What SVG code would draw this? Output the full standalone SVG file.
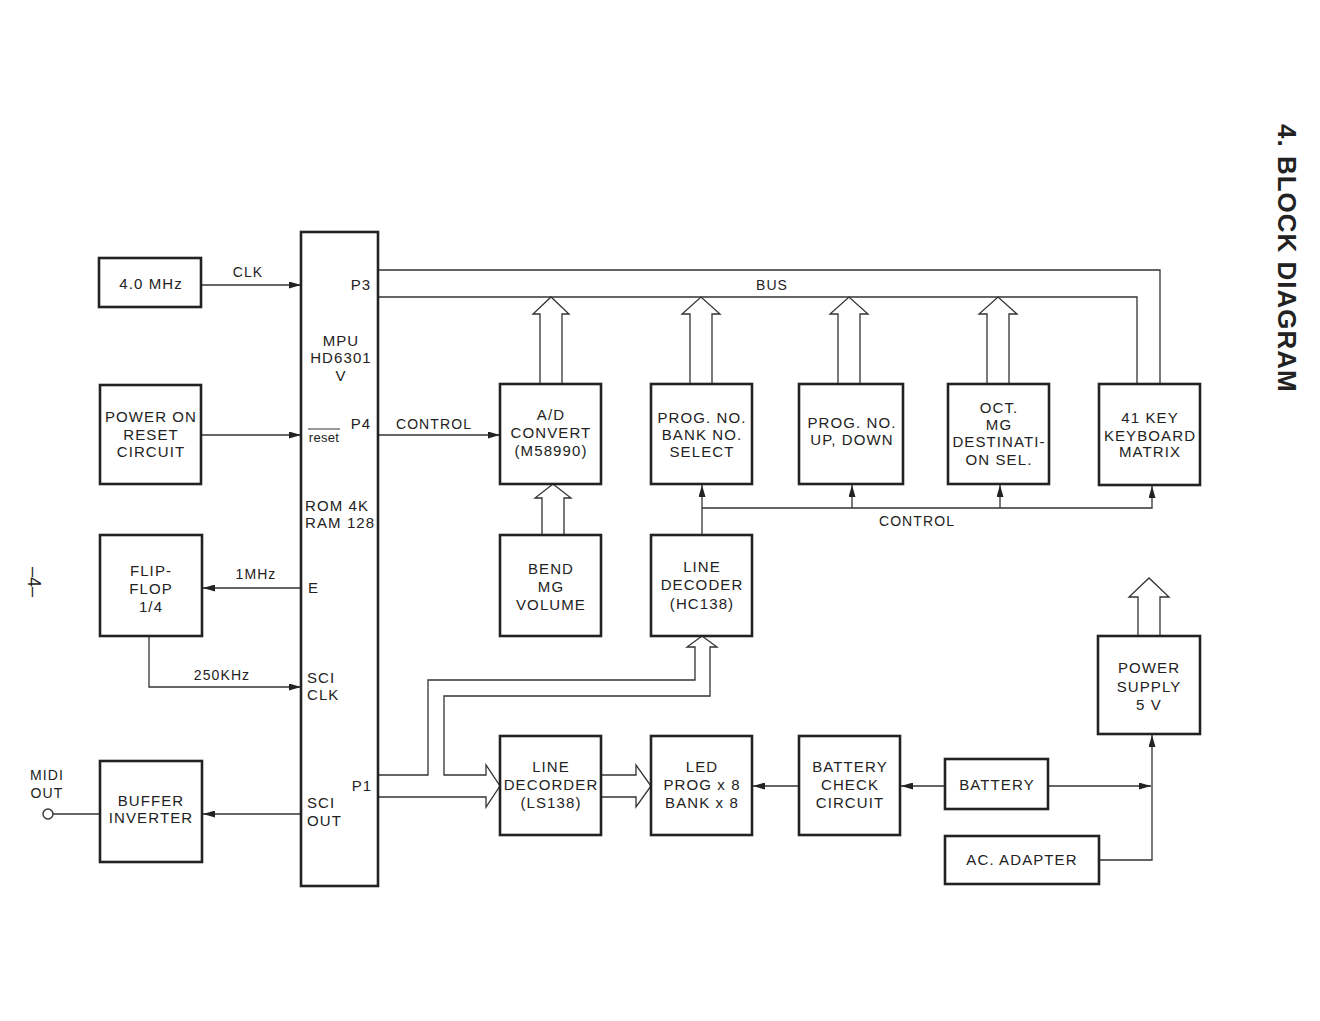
<svg xmlns="http://www.w3.org/2000/svg" width="1320" height="1021" viewBox="0 0 1320 1021">
<style>
.box{fill:#fff;stroke:#222;stroke-width:2.6}
.ln{fill:none;stroke:#333;stroke-width:1.3}
.ha{fill:#fff;stroke:#333;stroke-width:1.3;stroke-linejoin:miter}
text{font-family:"Liberation Sans",Arial,sans-serif;font-size:15px;fill:#222;letter-spacing:1.1px}
.c{text-anchor:middle}
.lbl{font-size:14px}
.title{font-size:26px;font-weight:bold;letter-spacing:1px}
</style>
<defs>
<marker id="ah" viewBox="0 0 12 7" refX="12" refY="3.5" markerWidth="12" markerHeight="7" markerUnits="userSpaceOnUse" orient="auto">
<path d="M0,0 L12,3.5 L0,7 Z" fill="#222"/>
</marker>
</defs>
<rect width="1320" height="1021" fill="#fff"/>

<g id="connectors">
<line class="ln" x1="201" y1="285" x2="301" y2="285" marker-end="url(#ah)"/>
<line class="ln" x1="201" y1="435" x2="301" y2="435" marker-end="url(#ah)"/>
<line class="ln" x1="301" y1="588" x2="203" y2="588" marker-end="url(#ah)"/>
<polyline class="ln" points="149,637 149,687 301,687" marker-end="url(#ah)"/>
<line class="ln" x1="301" y1="814" x2="203" y2="814" marker-end="url(#ah)"/>
<line class="ln" x1="53" y1="814" x2="100" y2="814"/>
<circle cx="48" cy="814" r="5" fill="#fff" stroke="#333" stroke-width="1.4"/>
<polyline class="ln" points="378,270 1160,270 1160,384"/>
<polyline class="ln" points="378,297 1137,297 1137,384"/>
<line class="ln" x1="378" y1="435" x2="500" y2="435" marker-end="url(#ah)"/>
<polyline class="ha" points="540,384 540,314 533,314 551,297 569,314 562,314 562,384"/>
<polyline class="ha" points="690,384 690,314 682,314 701,297 720,314 712,314 712,384"/>
<polyline class="ha" points="838,384 838,314 830,314 849,297 868,314 860,314 860,384"/>
<polyline class="ha" points="987,384 987,314 979,314 998,297 1017,314 1009,314 1009,384"/>
<polyline class="ha" points="542,535 542,498 535,498 553,484 571,498 564,498 564,535"/>
<line class="ln" x1="702" y1="535" x2="702" y2="485" marker-end="url(#ah)"/>
<polyline class="ln" points="702,508 1152,508 1152,486" marker-end="url(#ah)"/>
<line class="ln" x1="852" y1="508" x2="852" y2="485" marker-end="url(#ah)"/>
<line class="ln" x1="1000" y1="508" x2="1000" y2="485" marker-end="url(#ah)"/>
<polyline class="ha" points="378,775 428,775 428,680 695,680 695,647 687,647 702,636 717,647 710,647 710,696 444,696 444,775 486,775 486,765 500,786 486,807 486,797 378,797"/>
<polyline class="ha" points="602,775 636,775 636,765 651,786 636,807 636,797 602,797"/>
<line class="ln" x1="799" y1="786" x2="753" y2="786" marker-end="url(#ah)"/>
<line class="ln" x1="945" y1="786" x2="901" y2="786" marker-end="url(#ah)"/>
<line class="ln" x1="1048" y1="786" x2="1151" y2="786" marker-end="url(#ah)"/>
<polyline class="ln" points="1099,860 1152,860 1152,735" marker-end="url(#ah)"/>
<polyline class="ha" points="1138,636 1138,597 1129,597 1149,578 1169,597 1160,597 1160,636"/>
</g>

<g id="osc"><rect class="box" x="99" y="258" width="102" height="49"/><text class="c" x="151" y="289">4.0 MHz</text></g>
<g id="por"><rect class="box" x="100" y="385" width="101" height="99"/><text class="c" x="151" y="422">POWER ON</text><text class="c" x="151" y="440">RESET</text><text class="c" x="151" y="457">CIRCUIT</text></g>
<g id="ff"><rect class="box" x="100" y="535" width="102" height="101"/><text class="c" x="151" y="576">FLIP-</text><text class="c" x="151" y="594">FLOP</text><text class="c" x="151" y="612">1/4</text></g>
<g id="buf"><rect class="box" x="100" y="761" width="102" height="101"/><text class="c" x="151" y="806">BUFFER</text><text class="c" x="151" y="823">INVERTER</text></g>

<g id="mpu"><rect class="box" x="301" y="232" width="77" height="654"/>
<text class="c" x="341" y="346">MPU</text><text class="c" x="341" y="363">HD6301</text><text class="c" x="341" y="381">V</text>
<text class="c" x="361" y="290">P3</text>
<text class="c" x="361" y="429">P4</text>
<text class="c lbl" x="324" y="442" style="font-size:13px;letter-spacing:0.3px">reset</text>
<line x1="308" y1="429" x2="340" y2="429" stroke="#333" stroke-width="1"/>
<text x="305" y="511">ROM 4K</text><text x="305" y="528">RAM 128</text>
<text x="308" y="593">E</text>
<text x="307" y="683">SCI</text><text x="307" y="700">CLK</text>
<text x="307" y="808">SCI</text><text x="307" y="826">OUT</text>
<text class="c" x="362" y="791">P1</text>
</g>

<g id="ad"><rect class="box" x="500" y="384" width="101" height="100"/><text class="c" x="551" y="420">A/D</text><text class="c" x="551" y="438">CONVERT</text><text class="c" x="551" y="456">(M58990)</text></g>
<g id="pbs"><rect class="box" x="651" y="384" width="101" height="100"/><text class="c" x="702" y="423">PROG. NO.</text><text class="c" x="702" y="440">BANK NO.</text><text class="c" x="702" y="457">SELECT</text></g>
<g id="pud"><rect class="box" x="799" y="384" width="104" height="100"/><text class="c" x="852" y="428">PROG. NO.</text><text class="c" x="852" y="445">UP, DOWN</text></g>
<g id="oct"><rect class="box" x="948" y="384" width="101" height="100"/><text class="c" x="999" y="413">OCT.</text><text class="c" x="999" y="430">MG</text><text class="c" x="999" y="447">DESTINATI-</text><text class="c" x="999" y="465">ON SEL.</text></g>
<g id="kbd"><rect class="box" x="1099" y="384" width="101" height="101"/><text class="c" x="1150" y="423">41 KEY</text><text class="c" x="1150" y="441">KEYBOARD</text><text class="c" x="1150" y="457">MATRIX</text></g>

<g id="bend"><rect class="box" x="500" y="535" width="101" height="101"/><text class="c" x="551" y="574">BEND</text><text class="c" x="551" y="592">MG</text><text class="c" x="551" y="610">VOLUME</text></g>
<g id="hc138"><rect class="box" x="651" y="535" width="101" height="101"/><text class="c" x="702" y="572">LINE</text><text class="c" x="702" y="590">DECODER</text><text class="c" x="702" y="609">(HC138)</text></g>
<g id="psu"><rect class="box" x="1098" y="636" width="102" height="98"/><text class="c" x="1149" y="673">POWER</text><text class="c" x="1149" y="692">SUPPLY</text><text class="c" x="1149" y="710">5 V</text></g>

<g id="ls138"><rect class="box" x="500" y="736" width="101" height="99"/><text class="c" x="551" y="772">LINE</text><text class="c" x="551" y="790">DECORDER</text><text class="c" x="551" y="808">(LS138)</text></g>
<g id="led"><rect class="box" x="651" y="736" width="101" height="99"/><text class="c" x="702" y="772">LED</text><text class="c" x="702" y="790">PROG x 8</text><text class="c" x="702" y="808">BANK x 8</text></g>
<g id="bcc"><rect class="box" x="799" y="736" width="101" height="99"/><text class="c" x="850" y="772">BATTERY</text><text class="c" x="850" y="790">CHECK</text><text class="c" x="850" y="808">CIRCUIT</text></g>
<g id="bat"><rect class="box" x="945" y="759" width="103" height="50"/><text class="c" x="997" y="790">BATTERY</text></g>
<g id="acad"><rect class="box" x="945" y="836" width="154" height="48"/><text class="c" x="1022" y="865">AC. ADAPTER</text></g>

<g id="labels">
<text class="c lbl" x="248" y="277">CLK</text>
<text class="c lbl" x="256" y="579">1MHz</text>
<text class="c lbl" x="222" y="680">250KHz</text>
<text class="c lbl" x="47" y="780">MIDI</text>
<text class="c lbl" x="47" y="798">OUT</text>
<text class="c lbl" x="772" y="290">BUS</text>
<text class="c lbl" x="434" y="429">CONTROL</text>
<text class="c lbl" x="917" y="526">CONTROL</text>
<text class="title" transform="translate(1278,124) rotate(90)">4.  BLOCK  DIAGRAM</text>
<text class="c" transform="translate(28,582) rotate(90)" style="font-size:18px;letter-spacing:0">–4–</text>
</g>
</svg>
